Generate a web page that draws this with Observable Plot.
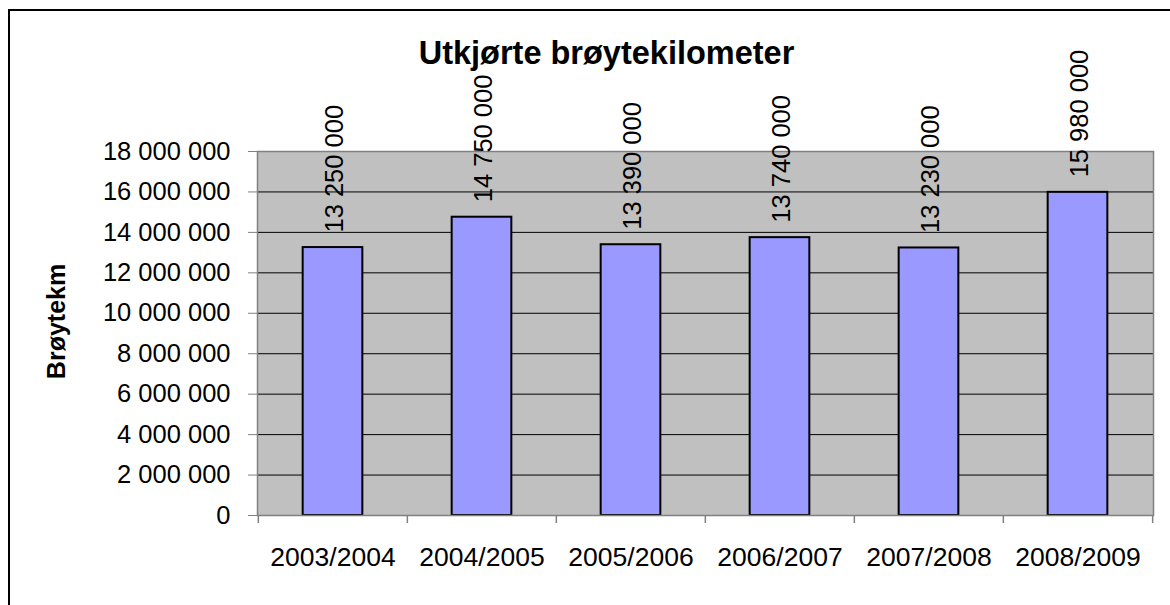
<!DOCTYPE html>
<html>
<head>
<meta charset="utf-8">
<script src="https://cdn.jsdelivr.net/npm/d3@7"></script>
<script src="https://cdn.jsdelivr.net/npm/@observablehq/plot@0.6"></script>
<style>
  html, body { margin: 0; padding: 0; background: #fff; overflow: hidden; }
  #wrap { position: relative; width: 1170px; height: 605px; }
  #border { position: absolute; left: 8px; top: 9px; width: 3000px; height: 3000px; border: 2px solid #000; box-sizing: border-box; }
  #chart { position: absolute; left: 0; top: 0; }
</style>
</head>
<body>
<div id="wrap"><div id="border"></div><div id="chart"></div></div>
<script>
const seasons = ["2003/2004", "2004/2005", "2005/2006", "2006/2007", "2007/2008", "2008/2009"];
const values = [13250000, 14750000, 13390000, 13740000, 13230000, 15980000];
const yTicks = [0, 2000000, 4000000, 6000000, 8000000, 10000000, 12000000, 14000000, 16000000, 18000000];
const title = "Utkjørte brøytekilometer";
const yLabel = "Brøytekm";

const data = seasons.map((s, i) => ({season: s, value: values[i]}));
const fmt = (v) => d3.format(",")(v).replace(/,/g, " ");

const W = 1170, H = 605;
const mL = 257, mR = 17, mT = 151, mB = 90;
const band = (W - mL - mR) / seasons.length;
const barW = 60;
const font = "'Liberation Sans', Arial, Helvetica, sans-serif";

const chart = Plot.plot({
  width: W,
  height: H,
  marginLeft: mL,
  marginRight: mR,
  marginTop: mT,
  marginBottom: mB,
  style: {fontFamily: font, fontSize: "25.5px", color: "#000", background: "transparent", overflow: "visible"},
  x: {domain: seasons, padding: 0},
  y: {domain: [0, 18000000]},
  marks: [
    Plot.frame({fill: "#C0C0C0", stroke: null}),
    Plot.ruleY(yTicks.filter(t => t > 0 && t < 18000000), {stroke: "#000", strokeWidth: 1}),
    Plot.barY(data, {x: "season", y: "value", fill: "#9999FF", stroke: "#000", strokeWidth: 2,
      insetLeft: (band - barW) / 2, insetRight: (band - barW) / 2}),
    Plot.frame({stroke: "#808080", strokeWidth: 1.5}),
    Plot.axisY({ticks: yTicks, tickSize: 9, tickPadding: 18, tickFormat: fmt, stroke: "#808080", fill: "#000", fontSize: 25.5, label: null}),
    Plot.axisX({tickSize: 0, tickPadding: 32, fill: "#000", fontSize: 26.5, label: null}),
    // category boundary ticks
    Plot.ruleX(seasons, {x: d => d, dx: -band / 2, stroke: "#808080", strokeWidth: 1.5, insetTop: H - mT - mB, insetBottom: -8}),
    Plot.ruleX(seasons.slice(-1), {x: d => d, dx: band / 2, stroke: "#808080", strokeWidth: 1.5, insetTop: H - mT - mB, insetBottom: -8}),
    // value labels
    Plot.text(data, {x: "season", y: "value", text: d => fmt(d.value), rotate: -90, textAnchor: "start",
      lineAnchor: "middle", dy: -15, dx: 2, fontSize: 25.5, fill: "#000"}),
    // title
    Plot.text([title], {frameAnchor: "top", dx: 606 - (mL + (W - mL - mR) / 2), dy: 53 - mT,
      lineAnchor: "middle", fontSize: 32.5, fontWeight: "bold", fill: "#000"}),
    // y label
    Plot.text([yLabel], {frameAnchor: "left", dx: 56 - mL, dy: 321 - (mT + (H - mT - mB) / 2),
      rotate: -90, lineAnchor: "middle", textAnchor: "middle", fontSize: 25, fontWeight: "bold", fill: "#000"})
  ]
});
document.getElementById("chart").appendChild(chart);
</script>
</body>
</html>
